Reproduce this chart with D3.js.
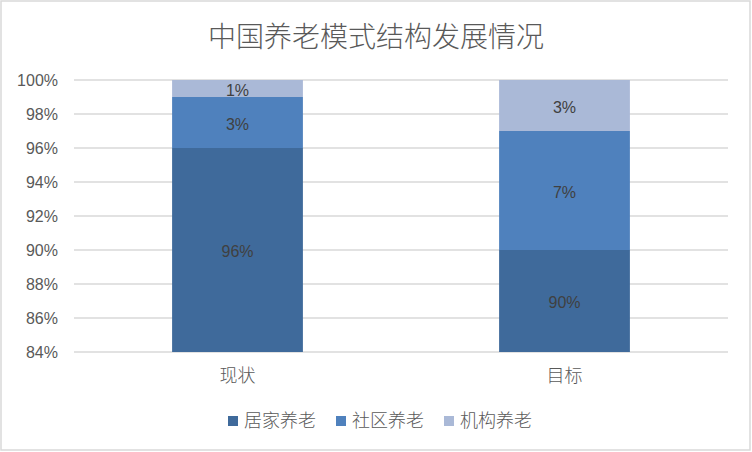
<!DOCTYPE html>
<html>
<head>
<meta charset="utf-8">
<script src="https://cdn.jsdelivr.net/npm/d3@7"></script>
<style>
  html, body { margin: 0; padding: 0; background: #fff; }
  svg { display: block; }
</style>
</head>
<body>
<div id="chart"></div>
<script>
// data
const categories = ["现状", "目标"];
const seriesNames = ["居家养老", "社区养老", "机构养老"];
const homeCare = [96, 90];
const communityCare = [3, 7];
const institutionCare = [1, 3];
const yTicks = [84, 86, 88, 90, 92, 94, 96, 98, 100];

const colors = ["#3f6a9b", "#4f81bd", "#aab9d7"];
const width = 752, height = 452;
const margin = { top: 80, right: 24, bottom: 100, left: 74 };
const numFont = "'Liberation Sans', 'Noto Sans CJK SC', sans-serif";
const cjkFont = "'Noto Sans CJK SC', sans-serif";

const svg = d3.select("#chart").append("svg")
    .attr("width", width)
    .attr("height", height);

// chart area border
svg.append("rect")
    .attr("x", 1).attr("y", 1)
    .attr("width", width - 3).attr("height", height - 3)
    .attr("fill", "#fff")
    .attr("stroke", "#d9d9d9")
    .attr("stroke-width", 1.5);

svg.append("text")
    .attr("x", 376)
    .attr("y", 47)
    .attr("text-anchor", "middle")
    .attr("font-family", cjkFont)
    .attr("font-size", 28)
    .attr("font-weight", 300)
    .attr("fill", "#595959")
    .text("中国养老模式结构发展情况");

const x = d3.scaleBand()
    .domain(categories)
    .range([margin.left, width - margin.right])
    .paddingInner(0.6)
    .paddingOuter(0.3);

const y = d3.scaleLinear()
    .domain([84, 100])
    .range([height - margin.bottom, margin.top]);

// gridlines
svg.append("g")
    .selectAll("line")
    .data(yTicks)
    .enter().append("line")
    .attr("x1", margin.left)
    .attr("x2", width - margin.right)
    .attr("y1", d => y(d))
    .attr("y2", d => y(d))
    .attr("stroke", "#d9d9d9")
    .attr("stroke-width", 1.5);

// y axis labels
const yAxis = d3.axisLeft(y)
    .tickValues(yTicks)
    .tickFormat(d => d + "%")
    .tickSize(0)
    .tickPadding(16);

const yg = svg.append("g")
    .attr("transform", "translate(" + margin.left + ",0)")
    .call(yAxis);
yg.select(".domain").remove();
yg.selectAll("text")
    .attr("font-family", numFont)
    .attr("font-size", 16)
    .attr("fill", "#595959");

// stacked bars
const table = categories.map((c, i) => ({
    cat: c,
    "居家养老": homeCare[i],
    "社区养老": communityCare[i],
    "机构养老": institutionCare[i]
}));
const stack = d3.stack().keys(seriesNames);
const layers = stack(table);

const plot = svg.append("g");
const layer = plot.selectAll(".layer")
    .data(layers)
    .enter().append("g")
    .attr("class", "layer")
    .attr("fill", (d, i) => colors[i]);

layer.selectAll("rect")
    .data(d => d)
    .enter().append("rect")
    .attr("x", d => x(d.data.cat))
    .attr("width", x.bandwidth())
    .attr("y", d => y(Math.min(d[1], 100)))
    .attr("height", d => y(Math.max(d[0], 84)) - y(Math.min(d[1], 100)));

layer.selectAll("text")
    .data(d => d.map(p => ({ p: p, key: d.key })))
    .enter().append("text")
    .attr("x", d => x(d.p.data.cat) + x.bandwidth() / 2)
    .attr("y", d => (y(Math.max(d.p[0], 84)) + y(Math.min(d.p[1], 100))) / 2)
    .attr("dy", "0.45em")
    .attr("text-anchor", "middle")
    .attr("font-family", numFont)
    .attr("font-size", 16)
    .attr("fill", "#404040")
    .text(d => d.p.data[d.key] + "%");

// x axis labels
const xAxis = d3.axisBottom(x).tickSize(0).tickPadding(17);
const xg = svg.append("g")
    .attr("transform", "translate(0," + (height - margin.bottom) + ")")
    .call(xAxis);
xg.select(".domain").remove();
xg.selectAll("text")
    .attr("font-family", cjkFont)
    .attr("font-size", 18)
    .attr("font-weight", 300)
    .attr("fill", "#595959");

// legend
const legend = svg.append("g");
const items = legend.selectAll("g")
    .data(seriesNames)
    .enter().append("g");
items.append("rect")
    .attr("width", 10).attr("height", 10)
    .attr("y", -11)
    .attr("fill", (d, i) => colors[i]);
items.append("text")
    .attr("x", 16)
    .attr("font-family", cjkFont)
    .attr("font-size", 18)
    .attr("font-weight", 300)
    .attr("fill", "#595959")
    .text(d => d);

let offset = 0;
const widths = [];
items.each(function () {
    const w = 16 + this.querySelector("text").getComputedTextLength();
    widths.push(w);
});
const gap = 20;
const total = d3.sum(widths) + gap * (widths.length - 1);
let startX = 380 - total / 2;
items.attr("transform", (d, i) => {
    const tx = startX + offset;
    offset += widths[i] + gap;
    return "translate(" + tx + ",427)";
});
</script>
</body>
</html>
